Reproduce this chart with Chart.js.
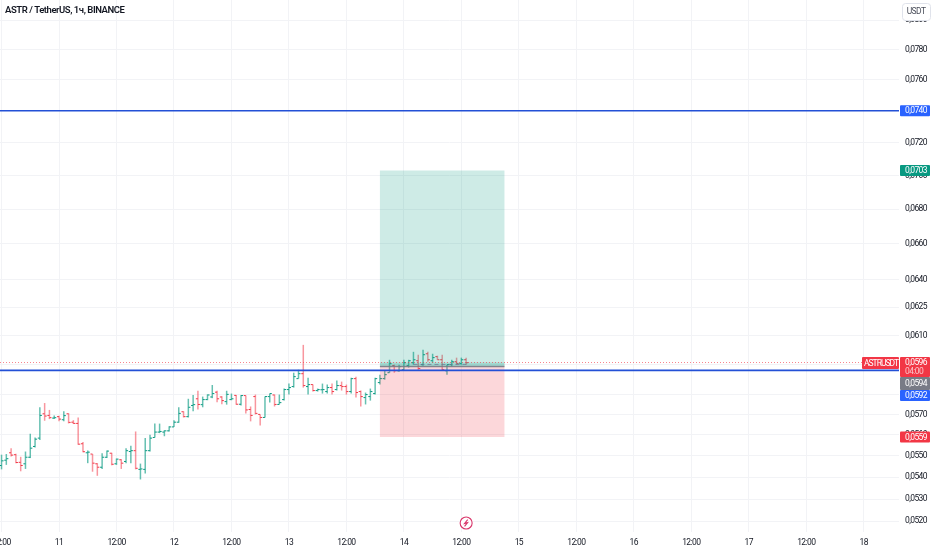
<!DOCTYPE html>
<html>
<head>
<meta charset="utf-8">
<title>ASTR / TetherUS</title>
<script src="https://cdn.jsdelivr.net/npm/chart.js@4"></script>
<style>
html, body { margin: 0; padding: 0; background: #fff; overflow: hidden; }
canvas { display: block; }
</style>
</head>
<body>
<canvas id="chart" width="932" height="550"></canvas>
<script>
// hours counted from 11th 00:00, one bar per hour
var barHours = [-12,-11,-10,-9,-8,-7,-6,-5,-4,-3,-2,-1,0,1,2,3,4,5,6,7,8,9,10,11,12,13,14,15,16,17,18,19,20,21,22,23,24,25,26,27,28,29,30,31,32,33,34,35,36,37,38,39,40,41,42,43,44,45,46,47,48,49,50,51,52,53,54,55,56,57,58,59,60,61,62,63,64,65,66,67,68,69,70,71,72,73,74,75,76,77,78,79,80,81,82,83,84,85];

var barOpens = [
  0.05455,0.05480,0.05515,0.05506,0.05470,0.05463,0.05494,0.05545,0.05585,0.05703,
  0.05695,0.05682,0.05689,0.05674,0.05703,0.05662,0.05656,0.05558,0.05515,0.05509,
  0.05463,0.05447,0.05494,0.05513,0.05463,0.05482,0.05474,0.05521,0.05525,0.05437,
  0.05437,0.05525,0.05588,0.05614,0.05614,0.05620,0.05639,0.05662,0.05713,0.05689,
  0.05744,0.05777,0.05748,0.05773,0.05786,0.05810,0.05786,0.05763,0.05773,0.05794,
  0.05750,0.05793,0.05724,0.05788,0.05700,0.05685,0.05788,0.05796,0.05749,0.05773,
  0.05823,0.05838,0.05878,0.05903,0.05838,0.05848,0.05818,0.05822,0.05813,0.05833,
  0.05823,0.05843,0.05838,0.05813,0.05878,0.05813,0.05783,0.05788,0.05803,0.05858,
  0.05878,0.05908,0.05944,0.05918,0.05923,0.05944,0.05959,0.05969,0.05949,0.06005,
  0.05969,0.05990,0.05974,0.05918,0.05949,0.05964,0.05954,0.05974];
var barHighs = [
  0.05506,0.05509,0.05537,0.05510,0.05496,0.05521,0.05606,0.05588,0.05735,0.05756,
  0.05722,0.05695,0.05694,0.05715,0.05705,0.05672,0.05685,0.05566,0.05526,0.05509,
  0.05466,0.05513,0.05526,0.05515,0.05488,0.05485,0.05537,0.05549,0.05617,0.05464,
  0.05585,0.05601,0.05655,0.05655,0.05623,0.05642,0.05672,0.05735,0.05715,0.05777,
  0.05796,0.05817,0.05788,0.05799,0.05846,0.05817,0.05790,0.05817,0.05803,0.05796,
  0.05796,0.05793,0.05739,0.05798,0.05700,0.05788,0.05803,0.05798,0.05798,0.05828,
  0.05853,0.05908,0.05923,0.06051,0.05883,0.05848,0.05828,0.05853,0.05848,0.05853,
  0.05868,0.05863,0.05848,0.05883,0.05888,0.05818,0.05808,0.05828,0.05883,0.05898,
  0.05918,0.05974,0.05949,0.05949,0.05974,0.05974,0.06015,0.06000,0.06026,0.06015,
  0.06005,0.05995,0.06000,0.05949,0.05974,0.05985,0.05985,0.05985];
var barLows = [
  0.05437,0.05458,0.05498,0.05466,0.05428,0.05439,0.05490,0.05540,0.05576,0.05669,
  0.05677,0.05677,0.05667,0.05666,0.05656,0.05653,0.05553,0.05517,0.05466,0.05426,
  0.05407,0.05439,0.05490,0.05456,0.05458,0.05439,0.05466,0.05466,0.05437,0.05390,
  0.05418,0.05521,0.05588,0.05609,0.05594,0.05617,0.05639,0.05659,0.05685,0.05685,
  0.05715,0.05724,0.05735,0.05770,0.05780,0.05760,0.05750,0.05748,0.05770,0.05748,
  0.05744,0.05705,0.05666,0.05700,0.05646,0.05685,0.05758,0.05739,0.05749,0.05768,
  0.05798,0.05833,0.05878,0.05833,0.05798,0.05813,0.05813,0.05803,0.05803,0.05798,
  0.05818,0.05818,0.05798,0.05803,0.05783,0.05739,0.05749,0.05768,0.05798,0.05848,
  0.05873,0.05908,0.05908,0.05913,0.05918,0.05934,0.05949,0.05923,0.05944,0.05964,
  0.05959,0.05974,0.05918,0.05898,0.05939,0.05949,0.05949,0.05949];
var barCloses = [
  0.05477,0.05487,0.05504,0.05469,0.05455,0.05494,0.05537,0.05580,0.05695,0.05692,
  0.05684,0.05684,0.05677,0.05694,0.05661,0.05656,0.05556,0.05520,0.05518,0.05466,
  0.05447,0.05494,0.05523,0.05461,0.05485,0.05466,0.05525,0.05525,0.05442,0.05439,
  0.05525,0.05585,0.05614,0.05617,0.05620,0.05639,0.05662,0.05705,0.05689,0.05735,
  0.05748,0.05749,0.05773,0.05796,0.05803,0.05777,0.05768,0.05799,0.05777,0.05750,
  0.05793,0.05722,0.05695,0.05705,0.05685,0.05788,0.05803,0.05749,0.05758,0.05823,
  0.05833,0.05888,0.05903,0.05843,0.05848,0.05818,0.05823,0.05823,0.05833,0.05813,
  0.05843,0.05838,0.05813,0.05878,0.05808,0.05788,0.05798,0.05813,0.05878,0.05878,
  0.05898,0.05954,0.05918,0.05939,0.05959,0.05969,0.05974,0.05929,0.06000,0.05974,
  0.05985,0.05974,0.05923,0.05949,0.05964,0.05954,0.05974,0.05959];

var priceTicks = [0.0800,0.0780,0.0760,0.0740,0.0720,0.0700,0.0680,0.0660,0.0640,0.0625,0.0610,0.0595,0.0580,0.0570,0.0560,0.0550,0.0540,0.0530,0.0520];
var timeTicks = [-12,0,12,24,36,48,60,72,84,96,108,120,132,144,156,168];
var timeLabels = ['12:00','11','12:00','12','12:00','13','12:00','14','12:00','15','12:00','16','12:00','17','12:00','18'];

var levelHigh = 0.0740;   // синие уровни
var levelLow = 0.0592;
var lastPrice = 0.0596;
var positionEntry = 0.0594;
var positionTarget = 0.0703;
var positionStop = 0.0559;
var positionStart = 67;
var positionEnd = 93;
var lastHour = 85;

var xMin = -12.32, xMax = 175.37;
var yMin = 0.05152, yMax = 0.08139;

var GREEN = '#089981', RED = '#f23645', BLUE = '#2962ff', GREY = '#787b86';
var AXIS_FONT = 'Roboto, sans-serif';
var AXIS_SPACING = '-0.6px';
var GRID_COLOR = '#f2f3f6';

function priceLabel(v) {
    return v.toFixed(4).replace('.', ',');
}

var barColors = [], markColors = [];
for (var i = 0; i < barHours.length; i++) {
    var up = barCloses[i] >= barOpens[i];
    barColors.push(up ? 'rgba(8,153,129,0.62)' : 'rgba(242,54,69,0.52)');
    markColors.push(up ? GREEN : RED);
}

var wicks = [], openMarks = [], closeMarks = [];
for (var j = 0; j < barHours.length; j++) {
    wicks.push({ x: barHours[j], y: [barLows[j], barHighs[j]] });
    openMarks.push({ x: barHours[j] - 0.22, y: barOpens[j] });
    closeMarks.push({ x: barHours[j] + 0.22, y: barCloses[j] });
}

// ширина рамки позиции в пикселях, центр считает шкала
var positionCenter = (positionStart + positionEnd) / 2;
var positionWidth = (positionEnd - positionStart) * 4.79;

function hLine(y, x0, x1, color, width, dash, order) {
    return {
        type: 'line',
        data: [{ x: x0, y: y }, { x: x1, y: y }],
        borderColor: color,
        borderWidth: width,
        borderDash: dash || [],
        pointRadius: 0,
        tension: 0,
        order: order
    };
}

function boxBar(from, to, color, order) {
    return {
        type: 'bar',
        data: [{ x: positionCenter, y: [from, to] }],
        backgroundColor: color,
        barThickness: positionWidth,
        grouped: false,
        inflateAmount: 0,
        borderWidth: 0,
        order: order
    };
}

function badge(ctx, x, y, w, h, color, text, inset) {
    ctx.fillStyle = color;
    ctx.beginPath();
    ctx.roundRect(x, y, w, h, 1);
    ctx.fill();
    if (text) {
        ctx.fillStyle = '#fff';
        ctx.font = '8.5px ' + AXIS_FONT;
        ctx.textAlign = 'left';
        ctx.textBaseline = 'middle';
        ctx.fillText(text, x + (inset || 5), y + h / 2 + 0.5);
    }
}

var overlayPlugin = {
    id: 'overlay',
    beforeDraw: function (chart) {
        // узкие подписи как в оригинале
        chart.ctx.letterSpacing = AXIS_SPACING;
    },
    afterDraw: function (chart) {
        var ctx = chart.ctx;
        var yS = chart.scales.y, xS = chart.scales.x;
        ctx.save();

        // заголовок
        ctx.letterSpacing = '-0.45px';
        ctx.fillStyle = '#131722';
        ctx.font = '600 9.5px Roboto, sans-serif';
        ctx.textAlign = 'left';
        ctx.textBaseline = 'middle';
        ctx.fillText('ASTR / TetherUS, 1ч, BINANCE', 5, 11);
        ctx.letterSpacing = AXIS_SPACING;

        // кнопка валюты
        ctx.fillStyle = '#fff';
        ctx.strokeStyle = '#e0e3eb';
        ctx.lineWidth = 1;
        ctx.beginPath();
        ctx.roundRect(902.5, 3.5, 28, 17, 3);
        ctx.fill();
        ctx.stroke();
        ctx.fillStyle = '#4a4e5a';
        ctx.font = '8.5px ' + AXIS_FONT;
        ctx.textAlign = 'center';
        ctx.fillText('USDT', 916, 12);

        // метки цен справа
        var bx = 900, bw = 30;
        badge(ctx, bx, yS.getPixelForValue(levelHigh) - 5.5, bw, 11, BLUE, priceLabel(levelHigh));
        badge(ctx, bx, yS.getPixelForValue(positionTarget) - 5.5, bw, 11, GREEN, priceLabel(positionTarget));
        badge(ctx, bx, yS.getPixelForValue(positionStop) - 5.5, bw, 11, RED, priceLabel(positionStop));

        var lastY = yS.getPixelForValue(lastPrice);
        ctx.letterSpacing = '-1px';
        badge(ctx, 862, lastY - 5.5, 37, 12, RED, 'ASTRUSDT', 2);
        ctx.letterSpacing = AXIS_SPACING;
        badge(ctx, bx, lastY - 5.5, bw, 20, RED);
        ctx.fillStyle = '#fff';
        ctx.font = '8.5px ' + AXIS_FONT;
        ctx.textAlign = 'left';
        ctx.fillText(priceLabel(lastPrice), bx + 5, lastY + 0.5);
        ctx.fillStyle = 'rgba(255,255,255,0.7)';
        ctx.fillText('04:00', bx + 5, lastY + 9.5);

        badge(ctx, bx, lastY + 14.5, bw, 13, GREY, priceLabel(positionEntry));
        badge(ctx, bx, lastY + 27.5, bw, 11, BLUE, priceLabel(levelLow));

        // значок молнии у оси времени
        var ix = xS.getPixelForValue(lastHour), iy = 523;
        ctx.fillStyle = '#fff';
        ctx.strokeStyle = '#d9366a';
        ctx.lineWidth = 1.1;
        ctx.beginPath();
        ctx.arc(ix, iy, 6, 0, Math.PI * 2);
        ctx.fill();
        ctx.stroke();
        ctx.beginPath();
        ctx.moveTo(ix + 1.6, iy - 3.4);
        ctx.lineTo(ix - 1.6, iy + 0.4);
        ctx.lineTo(ix + 1.4, iy - 0.4);
        ctx.lineTo(ix - 1.6, iy + 3.4);
        ctx.stroke();

        ctx.restore();
    }
};

var chart = new Chart(document.getElementById('chart'), {
    type: 'bar',
    data: {
        datasets: [
            hLine(levelHigh, xMin, xMax, '#2350d6', 1.6, null, 1),
            hLine(levelLow, xMin, xMax, '#2350d6', 1.6, null, 1),
            hLine(lastPrice, xMin, xMax, 'rgba(242,54,69,0.6)', 1, [1, 2], 2),
            hLine(positionEntry, positionStart, positionEnd, 'rgba(120,123,134,0.9)', 1.5, null, 3),
            hLine(0.05950, 74, lastHour, 'rgba(110,120,150,0.75)', 1, [4, 3], 3),
            boxBar(positionEntry, positionTarget, 'rgba(8,153,129,0.2)', 5),
            boxBar(positionStop, positionEntry, 'rgba(242,54,69,0.2)', 5),
            boxBar(positionEntry, lastPrice, 'rgba(8,153,129,0.22)', 4),
            {
                type: 'scatter',
                data: openMarks,
                pointStyle: 'line',
                pointRadius: 1,
                pointBorderWidth: 1,
                pointBorderColor: markColors,
                order: 7
            },
            {
                type: 'scatter',
                data: closeMarks,
                pointStyle: 'line',
                pointRadius: 1,
                pointBorderWidth: 1,
                pointBorderColor: markColors,
                order: 7
            },
            {
                type: 'bar',
                data: wicks,
                backgroundColor: barColors,
                barThickness: 1.5,
                grouped: false,
                inflateAmount: 0,
                borderWidth: 0,
                order: 8
            }
        ]
    },
    plugins: [overlayPlugin],
    options: {
        responsive: false,
        animation: false,
        events: [],
        layout: { padding: 0, autoPadding: false },
        plugins: {
            legend: { display: false },
            tooltip: { enabled: false },
            title: { display: false }
        },
        scales: {
            x: {
                type: 'linear',
                min: xMin,
                max: xMax,
                offset: false,
                border: { display: false },
                grid: { color: GRID_COLOR, offset: false, drawTicks: false },
                afterBuildTicks: function (scale) {
                    scale.ticks = timeTicks.map(function (v) { return { value: v }; });
                },
                afterFit: function (scale) {
                    scale.height = 18;
                    scale.paddingLeft = 0;
                    scale.paddingRight = 0;
                },
                ticks: {
                    autoSkip: false,
                    maxRotation: 0,
                    padding: 6,
                    color: '#131722',
                    font: { family: AXIS_FONT, size: 8.5 },
                    callback: function (v) {
                        return timeLabels[timeTicks.indexOf(v)];
                    }
                }
            },
            y: {
                type: 'logarithmic',
                position: 'right',
                min: yMin,
                max: yMax,
                border: { display: false },
                grid: { color: GRID_COLOR, drawTicks: false },
                afterBuildTicks: function (scale) {
                    scale.ticks = priceTicks.map(function (v) { return { value: v }; });
                },
                afterFit: function (scale) {
                    scale.width = 33;
                    scale.paddingTop = 0;
                    scale.paddingBottom = 0;
                },
                ticks: {
                    autoSkip: false,
                    padding: 6,
                    color: '#131722',
                    font: { family: AXIS_FONT, size: 8.5 },
                    callback: function (v) {
                        return priceLabel(v);
                    }
                }
            }
        }
    }
});
</script>
</body>
</html>
